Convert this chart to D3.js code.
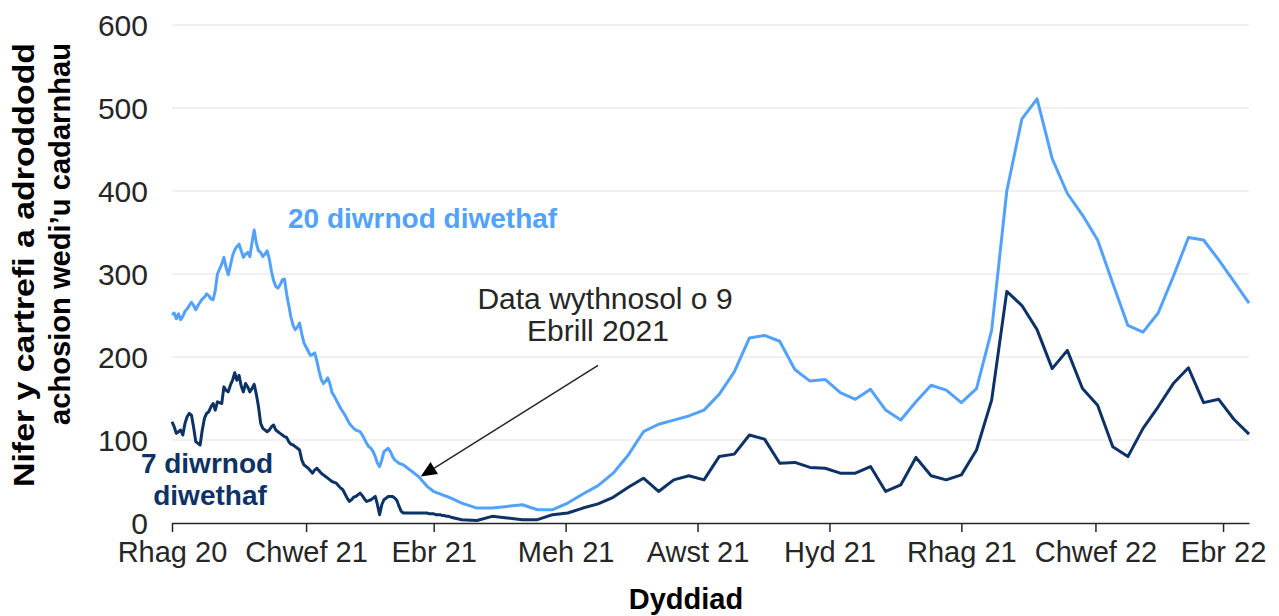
<!DOCTYPE html>
<html>
<head>
<meta charset="utf-8">
<script src="https://cdn.jsdelivr.net/npm/d3@7/dist/d3.min.js"></script>
<style>
  body { margin: 0; background: #fff; }
  text { font-family: Arial, "Liberation Sans", sans-serif; }
</style>
</head>
<body>
<svg id="chart"></svg>
<script>
// daily values, 1 Dec 2020 to 9 Apr 2021
const dailyStart = "2020-12-01";
const daily20 = [
  251,253,246,252,245,249,255,258,262,266, 262,257,262,266,270,272,276,274,270,269,
  280,300,306,312,320,308,299,310,322,329, 333,336,328,320,324,326,321,338,353,337,
  328,326,321,324,328,318,303,292,285,283, 287,293,294,276,262,248,238,233,236,241,
  228,217,212,207,202,203,205,195,183,173, 168,171,175,168,157,153,148,143,138,134,
  130,125,120,117,114,112,111,110,106,101, 96,92,90,86,80,72,68,76,86,88,
  90,86,80,76,74,72,71,70,68,66, 64,62,60,58,56,53,50,47,44,42,
  40,38,37,36,35,34,33,32,31,30
];
const daily7 = [
  122,116,108,110,112,106,120,128,132,130, 115,98,96,94,112,126,132,134,140,144,
  136,146,145,144,164,160,158,166,172,181, 172,178,165,158,168,164,158,162,167,155,
  140,120,114,112,110,112,116,118,112,110, 108,106,104,103,98,95,94,92,90,88,
  76,70,68,66,63,60,64,66,63,60, 58,56,54,52,50,49,48,45,42,40,
  35,30,26,28,31,32,34,36,33,29, 26,27,28,30,32,22,10,22,28,30,
  32,32,32,30,27,20,14,12,12,12, 12,12,12,12,12,12,12,12,12,11,
  11,11,10,10,10,9,9,8,8,7
];

// weekly values, from 14 Apr 2021 to 13 Apr 2022
const weeklyStart = "2021-04-14";
const weekly20 = [
  24,18,18,20,22,16,16,24,35,45, 60,82,110,119,124,129,136,155,182,223,
  226,219,185,171,173,157,149,161,136,124, 146,166,160,145,162,232,400,487,511,439,
  397,371,341,289,238,230,253,297,344,341, 317,291,265
];
const weekly7 = [
  4,3,8,6,4,4,10,12,18,23, 31,43,54,38,52,57,52,80,83,106,
  101,72,73,67,66,60,60,68,38,46, 79,57,52,58,88,148,279,262,233,186,
  208,162,142,92,80,114,140,168,187,145, 149,125,107
];

const tickDates = ["2020-12-01","2021-02-01","2021-04-01","2021-06-01","2021-08-01",
                   "2021-10-01","2021-12-01","2022-02-01","2022-04-01"];
const tickLabels = ["Rhag 20","Chwef 21","Ebr 21","Meh 21","Awst 21",
                    "Hyd 21","Rhag 21","Chwef 22","Ebr 22"];
const yTicks = [0,100,200,300,400,500,600];

const parse = d3.utcParse("%Y-%m-%d");

function build(startStr, values, stepDays) {
  const s = parse(startStr);
  return values.map((v, i) => ({ date: d3.utcDay.offset(s, i * stepDays), value: v }));
}
const series20 = build(dailyStart, daily20, 1).concat(build(weeklyStart, weekly20, 7));
const series7 = build(dailyStart, daily7, 1).concat(build(weeklyStart, weekly7, 7));

const width = 1279, height = 616;
const svg = d3.select("#chart").attr("width", width).attr("height", height);

const x = d3.scaleUtc()
  .domain([parse("2020-12-01"), parse("2022-04-13")])
  .range([172, 1249]);
const y = d3.scaleLinear().domain([0, 600]).range([523, 25]);

const lightBlue = "#52a2fd";
const darkBlue = "#0d3266";

// gridlines
svg.append("g")
  .selectAll("line")
  .data(yTicks.filter(d => d > 0))
  .join("line")
  .attr("x1", x.range()[0])
  .attr("x2", x.range()[1])
  .attr("y1", d => y(d))
  .attr("y2", d => y(d))
  .attr("stroke", "#ebebeb")
  .attr("stroke-width", 1.5);

// y tick labels
svg.append("g")
  .selectAll("text")
  .data(yTicks)
  .join("text")
  .attr("x", 148)
  .attr("y", d => y(d))
  .attr("dy", "0.35em")
  .attr("text-anchor", "end")
  .attr("font-size", 30)
  .attr("fill", "#262626")
  .text(d => d);

// x axis
const xAxis = d3.axisBottom(x)
  .tickValues(tickDates.map(parse))
  .tickFormat((d, i) => tickLabels[i])
  .tickSize(9)
  .tickSizeOuter(0);

const gx = svg.append("g")
  .attr("transform", `translate(0,${y(0)})`)
  .call(xAxis);
gx.select(".domain").attr("stroke", "#262626").attr("stroke-width", 1.5);
gx.selectAll(".tick line").attr("stroke", "#262626").attr("stroke-width", 1.5);
gx.selectAll(".tick text")
  .attr("font-size", 29)
  .attr("font-family", "Arial, 'Liberation Sans', sans-serif")
  .attr("fill", "#262626")
  .attr("y", 18)
  .attr("dy", "0.71em");

// lines
const line = d3.line()
  .x(d => x(d.date))
  .y(d => y(d.value));

svg.append("path")
  .datum(series20)
  .attr("fill", "none")
  .attr("stroke", lightBlue)
  .attr("stroke-width", 3)
  .attr("stroke-linejoin", "round")
  .attr("d", line);

svg.append("path")
  .datum(series7)
  .attr("fill", "none")
  .attr("stroke", darkBlue)
  .attr("stroke-width", 3)
  .attr("stroke-linejoin", "round")
  .attr("d", line);

// series labels
svg.append("text")
  .attr("x", 288).attr("y", 228)
  .attr("font-size", 28).attr("font-weight", "bold")
  .attr("fill", lightBlue)
  .text("20 diwrnod diwethaf");

const lbl7 = svg.append("text")
  .attr("font-size", 28).attr("font-weight", "bold")
  .attr("fill", darkBlue)
  .attr("text-anchor", "middle");
lbl7.append("tspan").attr("x", 207).attr("y", 473).text("7 diwrnod");
lbl7.append("tspan").attr("x", 210).attr("y", 505).text("diwethaf");

// annotation
const note = svg.append("text")
  .attr("font-size", 30)
  .attr("fill", "#262626")
  .attr("text-anchor", "middle");
note.append("tspan").attr("x", 605).attr("y", 309).text("Data wythnosol o 9");
note.append("tspan").attr("x", 598).attr("y", 341).text("Ebrill 2021");

const arrowFrom = { date: parse("2021-06-16"), value: 190 };
const arrowTo = { date: parse("2021-03-26"), value: 56 };
const ax1 = x(arrowFrom.date), ay1 = y(arrowFrom.value);
const ax2 = x(arrowTo.date), ay2 = y(arrowTo.value);
const ang = Math.atan2(ay2 - ay1, ax2 - ax1);
const headLen = 16, headW = 7;
const bx = ax2 - headLen * Math.cos(ang), by = ay2 - headLen * Math.sin(ang);

svg.append("line")
  .attr("x1", ax1).attr("y1", ay1)
  .attr("x2", bx).attr("y2", by)
  .attr("stroke", "#262626")
  .attr("stroke-width", 1.5);

svg.append("path")
  .attr("d", `M${ax2},${ay2}L${bx + headW * Math.sin(ang)},${by - headW * Math.cos(ang)}L${bx - headW * Math.sin(ang)},${by + headW * Math.cos(ang)}Z`)
  .attr("fill", "#000");

// axis titles
svg.append("text")
  .attr("x", 686).attr("y", 609)
  .attr("text-anchor", "middle")
  .attr("font-size", 29).attr("font-weight", "bold")
  .attr("fill", "#000")
  .text("Dyddiad");

const yTitle = svg.append("text")
  .attr("transform", "rotate(-90)")
  .attr("font-size", 30).attr("font-weight", "bold")
  .attr("fill", "#000");
yTitle.append("tspan").attr("x", -487).attr("y", 34)
  .attr("textLength", 444).attr("lengthAdjust", "spacingAndGlyphs")
  .text("Nifer y cartrefi a adroddodd");
yTitle.append("tspan").attr("x", -425).attr("y", 70)
  .attr("textLength", 382).attr("lengthAdjust", "spacingAndGlyphs")
  .text("achosion wedi’u cadarnhau");
</script>
</body>
</html>
